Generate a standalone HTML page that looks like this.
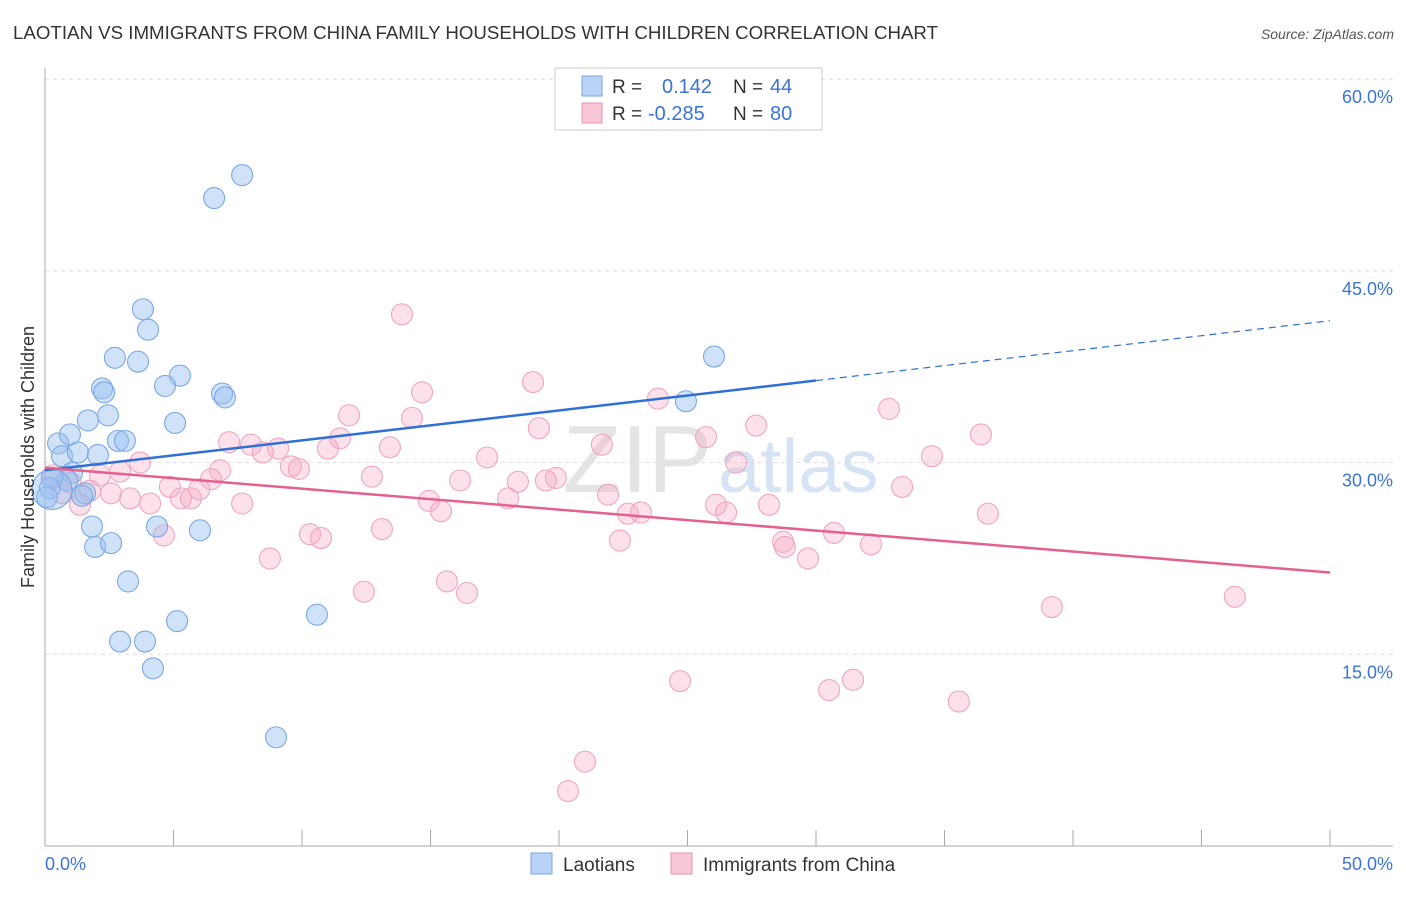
<!DOCTYPE html>
<html><head><meta charset="utf-8"><style>
body{margin:0;background:#fff;font-family:"Liberation Sans",sans-serif}
svg text{font-family:"Liberation Sans",sans-serif}
</style></head><body>
<svg width="1406" height="892" viewBox="0 0 1406 892">
<text x="13" y="39" font-size="18" textLength="925" lengthAdjust="spacingAndGlyphs" fill="#333">LAOTIAN VS IMMIGRANTS FROM CHINA FAMILY HOUSEHOLDS WITH CHILDREN CORRELATION CHART</text>
<text x="1394" y="39" font-size="14" fill="#555" font-style="italic" text-anchor="end">Source: ZipAtlas.com</text>
<text x="712" y="492" font-size="96" fill="#e4e4e4" font-family="Liberation Serif" text-anchor="end">ZIP</text>
<text x="718" y="492" font-size="76" fill="#d6e3f5">atlas</text>
<g id="grid"></g>
<g id="axes"></g>
<g id="pts"></g>
<g id="trends"></g>
<text transform="translate(34,457) rotate(-90)" font-size="18" fill="#333" text-anchor="middle">Family Households with Children</text>
<g>
<rect x="555" y="68" width="267" height="62" fill="#fff" stroke="#ccc"/>
<rect x="582" y="76" width="20" height="20" fill="#b8d3f5" stroke="#7aa6e0"/>
<rect x="582" y="103" width="20" height="20" fill="#f8c8d8" stroke="#e890b0"/>
<text x="612" y="93" font-size="19" fill="#333">R =</text>
<text x="662" y="93" font-size="20" fill="#3b74d6">0.142</text>
<text x="733" y="93" font-size="19" fill="#333">N =</text>
<text x="770" y="93" font-size="20" fill="#3b74d6">44</text>
<text x="612" y="120" font-size="19" fill="#333">R =</text>
<text x="648" y="120" font-size="20" fill="#3b74d6">-0.285</text>
<text x="733" y="120" font-size="19" fill="#333">N =</text>
<text x="770" y="120" font-size="20" fill="#3b74d6">80</text>
</g>
<g>
<rect x="531" y="853" width="21" height="21" fill="#b8d3f5" stroke="#7aa6e0"/>
<text x="563" y="871" font-size="19" fill="#333">Laotians</text>
<rect x="671" y="853" width="21" height="21" fill="#f8c8d8" stroke="#e890b0"/>
<text x="703" y="871" font-size="19" fill="#333">Immigrants from China</text>
</g>
</svg>
<script>
const xTicks=[0,5,10,15,20,25,30,35,40,45,50];
const yTicks=[15,30,45,60];
const yTickLabels=["15.0%","30.0%","45.0%","60.0%"];
const xLabels=["0.0%","50.0%"];
const blueX=[7.67,6.58,3.81,4.01,2.72,3.62,5.25,2.22,2.30,4.67,6.89,7.00,2.45,1.67,5.06,2.84,3.11,0.51,0.97,0.66,1.28,2.06,1.05,0.86,0.27,0.19,1.56,1.44,0.08,26.03,24.94,1.83,4.36,6.03,1.95,2.57,3.23,5.14,10.58,2.92,3.89,4.20,8.99,0.27];
const blueY=[52.5,50.7,42.0,40.4,38.2,37.9,36.8,35.8,35.5,36.0,35.4,35.1,33.7,33.3,33.1,31.7,31.7,31.5,32.2,30.5,30.8,30.6,29.2,28.6,28.8,28.0,27.6,27.4,27.3,38.3,34.8,25.0,25.0,24.7,23.4,23.7,20.7,17.6,18.1,16.0,16.0,13.9,8.5,27.9];
const pinkX=[13.89,18.99,14.67,23.85,32.84,11.83,14.28,27.67,19.22,36.42,25.72,11.48,7.16,8.02,9.07,11.01,13.42,21.67,8.48,34.51,17.20,3.70,26.89,9.57,9.88,6.81,2.92,2.14,12.72,6.46,19.88,16.15,19.49,18.40,4.86,6.00,33.35,1.75,0.66,2.57,21.91,3.31,5.29,5.68,14.94,18.02,4.09,7.67,1.36,26.11,28.17,15.41,22.68,23.19,26.50,36.69,13.11,10.31,4.63,30.70,10.74,22.37,28.72,28.79,32.14,8.75,29.69,15.64,16.42,12.41,39.18,46.30,24.71,31.44,30.51,35.56,21.01,20.35,0.3,1.0];
const pinkY=[41.6,36.3,35.5,35.0,34.2,33.7,33.5,32.9,32.7,32.2,32.0,31.9,31.6,31.4,31.1,31.1,31.2,31.4,30.8,30.5,30.4,30.0,30.0,29.7,29.5,29.4,29.3,29.0,28.9,28.7,28.8,28.6,28.6,28.5,28.1,27.9,28.1,27.8,27.6,27.6,27.5,27.2,27.2,27.2,27.0,27.2,26.8,26.8,26.7,26.7,26.7,26.2,26.0,26.1,26.1,26.0,24.8,24.4,24.3,24.5,24.1,23.9,23.8,23.4,23.6,22.5,22.5,20.7,19.8,19.9,18.7,19.5,12.9,13.0,12.2,11.3,6.6,4.3,29.0,28.4];
const blueTrend=[29.4,41.1]; const blueSolidEnd=30;
const pinkTrend=[29.6,21.4];
const NS="http://www.w3.org/2000/svg";
const X=v=>45+v*25.7, Y=v=>846-v*12.78;
function mk(t,a,p){const e=document.createElementNS(NS,t);for(const k in a)e.setAttribute(k,a[k]);p.appendChild(e);return e;}
const grid=document.getElementById('grid'),axes=document.getElementById('axes'),pts=document.getElementById('pts'),tr=document.getElementById('trends');
yTicks.forEach((t,i)=>{
 const l=mk('line',{x1:45,x2:1393,y1:Y(t),y2:Y(t),stroke:'#ddd','stroke-dasharray':'4,4'},grid);
 
 
 const tx=mk('text',{x:1393,y:Y(t)+24,'font-size':18,fill:'#3b74d6','text-anchor':'end'},axes);
 tx.textContent=yTickLabels[i];
 
 
});
const ax=mk('line',{x1:45,x2:1393,y1:846,y2:846,stroke:'#aaa'},axes);


const ay=mk('line',{x1:45,x2:45,y1:68,y2:846,stroke:'#aaa'},axes);


xTicks.forEach(t=>{const l=mk('line',{x1:X(t),x2:X(t),y1:830,y2:846,stroke:'#aaa'},axes);
 
 });
[[0,'start',45],[50,'end',1393]].forEach((d,i)=>{const t=mk('text',{x:d[2],y:870,'font-size':18,fill:'#3b74d6','text-anchor':d[1]},axes);t.textContent=xLabels[i];
 
 });
pinkX.forEach((x,i)=>{const c=mk('circle',{cx:X(x),cy:Y(pinkY[i]),r:10.5,fill:'rgba(246,170,196,0.35)',stroke:'#eda6c0','stroke-width':1.1},pts);
 
 });
blueX.forEach((x,i)=>{const c=mk('circle',{cx:X(x),cy:Y(blueY[i]),r:i==blueX.length-1?20:10.5,fill:'rgba(150,190,240,0.45)',stroke:'#7ba7e2','stroke-width':1.1},pts);
 
 });
const bAt=x=>blueTrend[0]+(blueTrend[1]-blueTrend[0])*x/50;
const b1=mk('line',{x1:X(0),y1:Y(bAt(0)),x2:X(blueSolidEnd),y2:Y(bAt(blueSolidEnd)),stroke:'#2f6fd6','stroke-width':2.5},tr);


const b2=mk('line',{x1:X(blueSolidEnd),y1:Y(bAt(blueSolidEnd)),x2:X(50),y2:Y(bAt(50)),stroke:'#2f6fd6','stroke-width':1.2,'stroke-dasharray':'7,5'},tr);


const p1=mk('line',{x1:X(0),y1:Y(pinkTrend[0]),x2:X(50),y2:Y(pinkTrend[1]),stroke:'#e4608f','stroke-width':2.5},tr);


</script>
</body></html>
